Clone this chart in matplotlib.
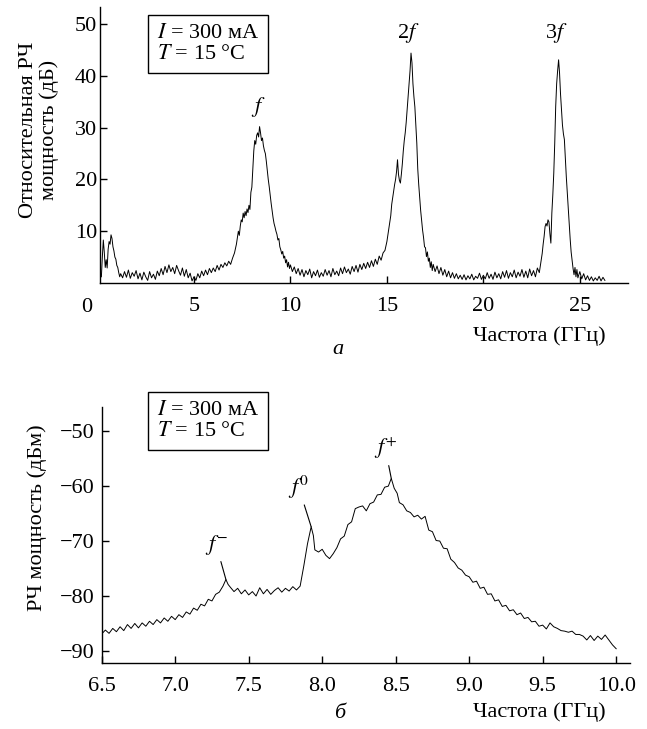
import numpy as np
import matplotlib
matplotlib.use("Agg")
import matplotlib.pyplot as plt

plt.rcParams['font.family'] = ['Liberation Serif', 'DejaVu Serif']
plt.rcParams['mathtext.fontset'] = 'stix'

# panel a: relative RF power (dB) vs frequency (GHz)
low_band = [
    (0.20, 1.2), (0.25, 5.0), (0.30, 8.3), (0.35, 6.0), (0.40, 3.0), (0.45, 4.5),
    (0.50, 2.9), (0.55, 6.5), (0.60, 8.0), (0.65, 7.5), (0.70, 9.3), (0.75, 8.6),
    (0.80, 7.0), (0.85, 6.2), (0.90, 5.0), (0.95, 4.6), (1.00, 3.4), (1.05, 3.0),
    (1.10, 2.0), (1.15, 1.2), (1.2, 1.8), (1.3, 1.0), (1.4, 2.2), (1.5, 1.1),
    (1.6, 2.5), (1.7, 0.9), (1.8, 2.0), (1.9, 1.3), (2.0, 2.4), (2.1, 0.8),
    (2.2, 1.9), (2.3, 0.6), (2.4, 2.1), (2.5, 1.2), (2.6, 0.5), (2.7, 2.2),
    (2.8, 1.0), (2.9, 1.7), (3.0, 0.7), (3.1, 2.3), (3.2, 1.4), (3.3, 2.8),
    (3.4, 1.6), (3.5, 3.2), (3.6, 2.0), (3.7, 3.5), (3.8, 2.2), (3.9, 3.0),
    (4.0, 1.8), (4.1, 3.4), (4.2, 2.4), (4.3, 1.5), (4.4, 2.9), (4.5, 1.3),
    (4.6, 2.6), (4.7, 1.0), (4.8, 1.9), (4.9, 0.4), (5.0, 1.2), (5.1, 0.5),
    (5.2, 1.8), (5.3, 1.0), (5.4, 2.3), (5.5, 1.4), (5.6, 2.5), (5.7, 1.6),
    (5.8, 2.8), (5.9, 2.0), (6.0, 2.9), (6.1, 2.2), (6.2, 3.4), (6.3, 2.5),
    (6.4, 3.6), (6.5, 3.0), (6.6, 3.9), (6.7, 3.3), (6.8, 4.2), (6.9, 3.6),
]
peak_f = [
    (7.0, 4.8), (7.1, 5.8), (7.2, 7.5), (7.3, 10.0), (7.35, 9.2), (7.4, 11.0),
    (7.45, 12.2), (7.5, 11.8), (7.55, 13.5), (7.6, 12.6), (7.65, 13.8), (7.7, 13.0),
    (7.75, 14.3), (7.8, 13.6), (7.85, 15.0), (7.9, 14.2), (7.95, 17.5), (8.0, 18.5),
    (8.05, 22.0), (8.1, 25.5), (8.15, 27.5), (8.2, 26.8), (8.25, 28.5), (8.3, 29.0),
    (8.35, 28.2), (8.4, 30.2), (8.45, 29.0), (8.5, 27.5), (8.55, 28.0), (8.6, 26.5),
    (8.65, 25.6), (8.7, 25.0), (8.75, 23.5), (8.8, 21.8), (8.85, 20.0), (8.9, 18.6),
    (8.95, 17.0), (9.0, 15.4), (9.05, 14.0), (9.1, 12.6), (9.15, 11.5), (9.2, 10.8),
    (9.25, 10.0), (9.3, 9.4), (9.35, 8.3), (9.4, 8.6), (9.45, 7.0), (9.5, 6.4),
    (9.55, 5.6), (9.6, 6.1), (9.65, 4.8), (9.7, 5.2), (9.75, 3.9), (9.8, 4.5),
    (9.85, 3.1), (9.9, 4.0), (9.95, 2.8), (10.0, 3.5), (10.1, 2.2), (10.2, 3.1),
    (10.3, 1.8), (10.4, 2.8), (10.5, 1.5), (10.6, 2.6), (10.7, 1.2), (10.8, 2.4),
    (10.9, 1.6), (11.0, 2.7), (11.1, 1.0), (11.2, 2.2), (11.3, 1.4), (11.4, 2.5),
    (11.5, 1.1), (11.6, 2.0), (11.7, 1.3), (11.8, 2.6), (11.9, 1.5), (12.0, 2.4),
    (12.1, 1.2), (12.2, 2.8), (12.3, 1.6), (12.4, 2.3), (12.5, 1.4), (12.6, 2.9),
    (12.7, 1.8), (12.8, 3.1), (12.9, 2.0), (13.0, 2.7), (13.1, 1.7), (13.2, 3.2),
    (13.3, 2.2), (13.4, 3.4), (13.5, 2.1), (13.6, 3.6), (13.7, 2.6), (13.8, 3.8),
    (13.9, 2.8), (14.0, 4.0), (14.1, 3.0), (14.2, 4.3), (14.3, 3.2), (14.4, 4.6),
    (14.5, 3.6), (14.6, 5.2), (14.7, 4.4), (14.8, 5.8),
]
peak_2f = [
    (14.9, 6.3), (15.0, 8.0), (15.1, 10.5), (15.2, 13.0), (15.25, 15.2), (15.3, 16.5),
    (15.35, 17.8), (15.4, 19.0), (15.45, 20.0), (15.5, 21.5), (15.55, 23.8), (15.6, 21.0),
    (15.65, 19.8), (15.7, 19.3), (15.75, 21.0), (15.8, 23.0), (15.85, 25.5), (15.9, 27.5),
    (15.95, 29.0), (16.0, 31.0), (16.05, 33.5), (16.1, 36.0), (16.15, 38.5), (16.2, 41.0),
    (16.25, 44.4), (16.3, 42.5), (16.35, 38.5), (16.4, 36.0), (16.45, 34.0), (16.5, 30.5),
    (16.55, 27.0), (16.6, 22.0), (16.65, 19.0), (16.7, 16.5), (16.75, 14.0), (16.8, 12.0),
    (16.85, 10.2), (16.9, 8.8), (16.95, 7.0), (17.0, 6.8), (17.05, 5.1), (17.1, 6.0),
    (17.15, 4.2), (17.2, 4.8), (17.25, 3.0), (17.3, 4.1), (17.35, 2.4), (17.4, 3.6),
    (17.5, 2.2), (17.6, 3.3), (17.7, 1.8), (17.8, 3.0), (17.9, 1.5), (18.0, 2.6),
    (18.1, 1.2), (18.2, 2.3), (18.3, 1.0), (18.4, 2.0), (18.5, 0.9), (18.6, 1.8),
    (18.7, 0.8), (18.8, 1.5), (18.9, 0.7), (19.0, 1.6), (19.1, 0.6), (19.2, 1.4),
    (19.3, 0.8), (19.4, 1.7), (19.5, 0.6), (19.6, 1.3), (19.7, 0.9), (19.8, 1.9),
    (19.9, 0.7), (20.0, 1.5), (20.1, 0.8), (20.2, 2.0), (20.3, 0.9), (20.4, 1.7),
    (20.5, 0.7), (20.6, 2.1), (20.7, 1.0), (20.8, 1.8), (20.9, 0.8), (21.0, 2.2),
    (21.1, 1.1), (21.2, 2.4), (21.3, 0.9), (21.4, 2.0), (21.5, 1.2), (21.6, 2.5),
    (21.7, 1.0), (21.8, 2.1), (21.9, 1.3), (22.0, 2.6), (22.1, 1.1), (22.2, 2.3),
    (22.3, 1.0), (22.4, 2.7), (22.5, 1.4), (22.6, 2.4), (22.7, 1.2), (22.8, 2.9),
    (22.9, 2.0),
]
peak_3f = [
    (23.0, 4.5), (23.05, 5.7), (23.1, 7.5), (23.15, 9.0), (23.2, 10.9), (23.25, 11.5),
    (23.3, 11.0), (23.35, 12.2), (23.4, 11.8), (23.45, 9.5), (23.5, 7.7), (23.55, 13.5),
    (23.6, 17.0), (23.65, 21.2), (23.7, 27.0), (23.75, 34.1), (23.8, 38.5), (23.85, 41.0),
    (23.9, 43.1), (23.95, 40.5), (24.0, 36.5), (24.05, 33.5), (24.1, 30.5), (24.15, 28.8),
    (24.2, 27.7), (24.25, 24.0), (24.3, 20.5), (24.35, 17.5), (24.4, 14.8), (24.45, 11.5),
    (24.5, 8.5), (24.55, 6.0), (24.6, 4.4), (24.65, 2.8), (24.7, 1.6), (24.75, 3.0),
    (24.8, 1.2), (24.85, 2.6), (24.9, 1.0), (25.0, 2.2), (25.1, 0.8), (25.2, 1.8),
    (25.3, 0.6), (25.4, 1.4), (25.5, 0.5), (25.6, 1.2), (25.7, 0.4), (25.8, 1.0),
    (25.9, 0.5), (26.0, 1.3), (26.1, 0.4), (26.2, 1.1), (26.3, 0.5),
]

# panel b: RF power (dBm) vs frequency (GHz)
fine_low = [
    (6.500, -86.9), (6.525, -86.2), (6.550, -86.8), (6.575, -85.9), (6.600, -86.5),
    (6.625, -85.6), (6.650, -86.3), (6.675, -85.2), (6.700, -85.9), (6.725, -85.0),
    (6.750, -85.8), (6.775, -84.9), (6.800, -85.5), (6.825, -84.6), (6.850, -85.2),
    (6.875, -84.3), (6.900, -84.9), (6.925, -84.0), (6.950, -84.6), (6.975, -83.7),
    (7.000, -84.3), (7.025, -83.4), (7.050, -83.9), (7.075, -82.9), (7.100, -83.3),
    (7.125, -82.2), (7.150, -82.6), (7.175, -81.5), (7.200, -81.8), (7.225, -80.6),
    (7.250, -80.9), (7.275, -79.7), (7.300, -79.3), (7.325, -78.2), (7.345, -77.0),
    (7.360, -77.9), (7.375, -78.4), (7.400, -79.2), (7.425, -78.6), (7.450, -79.6),
    (7.475, -78.9), (7.500, -79.8), (7.525, -79.2), (7.550, -80.0), (7.575, -78.5),
    (7.600, -79.6), (7.625, -78.8), (7.650, -79.7), (7.675, -79.0), (7.700, -78.5),
    (7.725, -79.3), (7.750, -78.6), (7.775, -79.1), (7.800, -78.3), (7.825, -78.9),
    (7.850, -78.2),
]
fine_mid = [
    (7.875, -74.5), (7.900, -70.5), (7.925, -67.4), (7.940, -69.0), (7.950, -71.6),
    (7.975, -72.0), (8.000, -71.5), (8.025, -72.6), (8.050, -73.2), (8.075, -72.3),
    (8.100, -71.2), (8.125, -69.6), (8.150, -69.1), (8.175, -67.0), (8.200, -66.5),
    (8.225, -64.1), (8.250, -63.8), (8.275, -63.6), (8.300, -64.5), (8.325, -63.2),
    (8.350, -62.9), (8.375, -61.6), (8.400, -61.5), (8.425, -60.2), (8.450, -60.0),
    (8.470, -58.6), (8.490, -60.4), (8.510, -61.3), (8.525, -63.0), (8.550, -63.4),
    (8.575, -64.5), (8.600, -64.8), (8.625, -65.6), (8.650, -65.3), (8.675, -66.0),
    (8.700, -65.5), (8.725, -68.0), (8.750, -68.3), (8.775, -69.9), (8.800, -70.0),
]
fine_high = [
    (8.825, -71.3), (8.850, -71.4), (8.875, -73.3), (8.900, -73.9), (8.925, -74.9),
    (8.950, -75.3), (8.975, -76.2), (9.000, -76.5), (9.025, -77.5), (9.050, -77.3),
    (9.075, -78.6), (9.100, -78.4), (9.125, -79.7), (9.150, -79.6), (9.175, -80.9),
    (9.200, -80.7), (9.225, -81.9), (9.250, -81.7), (9.275, -82.7), (9.300, -82.5),
    (9.325, -83.4), (9.350, -83.1), (9.375, -84.1), (9.400, -83.9), (9.425, -84.7),
    (9.450, -84.6), (9.475, -85.5), (9.500, -85.3), (9.525, -86.0), (9.550, -84.9),
    (9.575, -85.6), (9.600, -85.9), (9.625, -86.3), (9.650, -86.4), (9.675, -86.6),
    (9.700, -86.4), (9.725, -87.0), (9.750, -87.0), (9.775, -87.3), (9.800, -88.0),
    (9.825, -87.2), (9.850, -88.1), (9.875, -87.3), (9.900, -87.9), (9.925, -87.1),
    (9.950, -88.0), (9.975, -88.9), (10.000, -89.6),
]

freq_a, rf_a = np.array(low_band + peak_f + peak_2f + peak_3f).T
freq_b, rf_b = np.array(fine_low + fine_mid + fine_high).T

xticks_a = [5, 10, 15, 20, 25]
yticks_a = [10, 20, 30, 40, 50]
xticks_b = [6.5, 7.0, 7.5, 8.0, 8.5, 9.0, 9.5, 10.0]
yticks_b = [-90, -80, -70, -60, -50]

fs = 16
fig = plt.figure(figsize=(6.47, 7.29), dpi=100)
ax1 = fig.add_axes([0.1546, 0.6118, 0.8161, 0.3786])
ax2 = fig.add_axes([0.1572, 0.0905, 0.8165, 0.3512])

for ax in (ax1, ax2):
    for s in ('top', 'right'):
        ax.spines[s].set_visible(False)
    for s in ('left', 'bottom'):
        ax.spines[s].set_linewidth(1.0)
    ax.tick_params(direction='in', length=5, width=1.0, labelsize=fs)
    ax.tick_params(axis='x', pad=10)
ax1.tick_params(axis='y', pad=2)
ax2.tick_params(axis='y', pad=5)

# panel a
ax1.plot(freq_a, rf_a, color='black', lw=0.7)
ax1.set_xlim(0.13, 27.5)
ax1.set_ylim(0, 53.3)
ax1.set_xticks(xticks_a)
ax1.set_yticks(yticks_a)
ax1.text(-0.55, -0.088, '0', transform=ax1.get_xaxis_transform(), ha='center', va='center',
         fontsize=fs)
ax1.text(0.108, 0.94, '$I$ = 300 мА\n$T$ = 15 °C', transform=ax1.transAxes,
         ha='left', va='top', fontsize=fs, linespacing=1.15,
         bbox=dict(boxstyle='square,pad=0.4', fc='white', ec='black', lw=1.0))
ax1.text(8.33, 34.0, '$f$', ha='center', va='center', fontsize=fs)
ax1.text(16.09, 48.3, '2$f$', ha='center', va='center', fontsize=fs)
ax1.text(23.79, 48.3, '3$f$', ha='center', va='center', fontsize=fs)

# panel b
ax2.plot(freq_b, rf_b, color='black', lw=0.7)
ax2.set_xlim(6.5, 10.094)
ax2.set_ylim(-92.2, -45.6)
ax2.set_xticks(xticks_b)
ax2.set_xticklabels([f'{t:.1f}' for t in xticks_b])
ax2.set_yticks(yticks_b)
ax2.text(0.1047, 1.025, '$I$ = 300 мА\n$T$ = 15 °C', transform=ax2.transAxes,
         ha='left', va='top', fontsize=fs, linespacing=1.15,
         bbox=dict(boxstyle='square,pad=0.4', fc='white', ec='black', lw=1.0))
line = dict(arrowstyle='-', lw=0.8, color='black', shrinkA=1, shrinkB=0)
ax2.annotate('$f^{-}$', xy=(7.345, -77.0), xytext=(7.28, -70.8), ha='center', va='center',
             fontsize=fs, arrowprops=line)
ax2.annotate('$f^{0}$', xy=(7.925, -67.4), xytext=(7.84, -60.2), ha='center', va='center',
             fontsize=fs, arrowprops=line)
ax2.annotate('$f^{+}$', xy=(8.47, -58.6), xytext=(8.43, -53.2), ha='center', va='center',
             fontsize=fs, arrowprops=line)

# axis titles and panel letters
fig.text(39 / 647, 1 - 130 / 729, 'Относительная РЧ\nмощность (дБ)', rotation=90,
         ha='center', va='center', fontsize=fs, linespacing=1.05)
fig.text(37 / 647, 1 - 518 / 729, 'РЧ мощность (дБм)', rotation=90,
         ha='center', va='center', fontsize=fs)
fig.text(606 / 647, 1 - 336 / 729, 'Частота (ГГц)', ha='right', va='center', fontsize=fs)
fig.text(606 / 647, 1 - 712 / 729, 'Частота (ГГц)', ha='right', va='center', fontsize=fs)
fig.text(338 / 647, 1 - 350 / 729, 'а', ha='center', va='center', fontsize=fs, style='italic')
fig.text(340 / 647, 1 - 713 / 729, 'б', ha='center', va='center', fontsize=fs, style='italic')

fig.savefig('out.png', dpi=100)
